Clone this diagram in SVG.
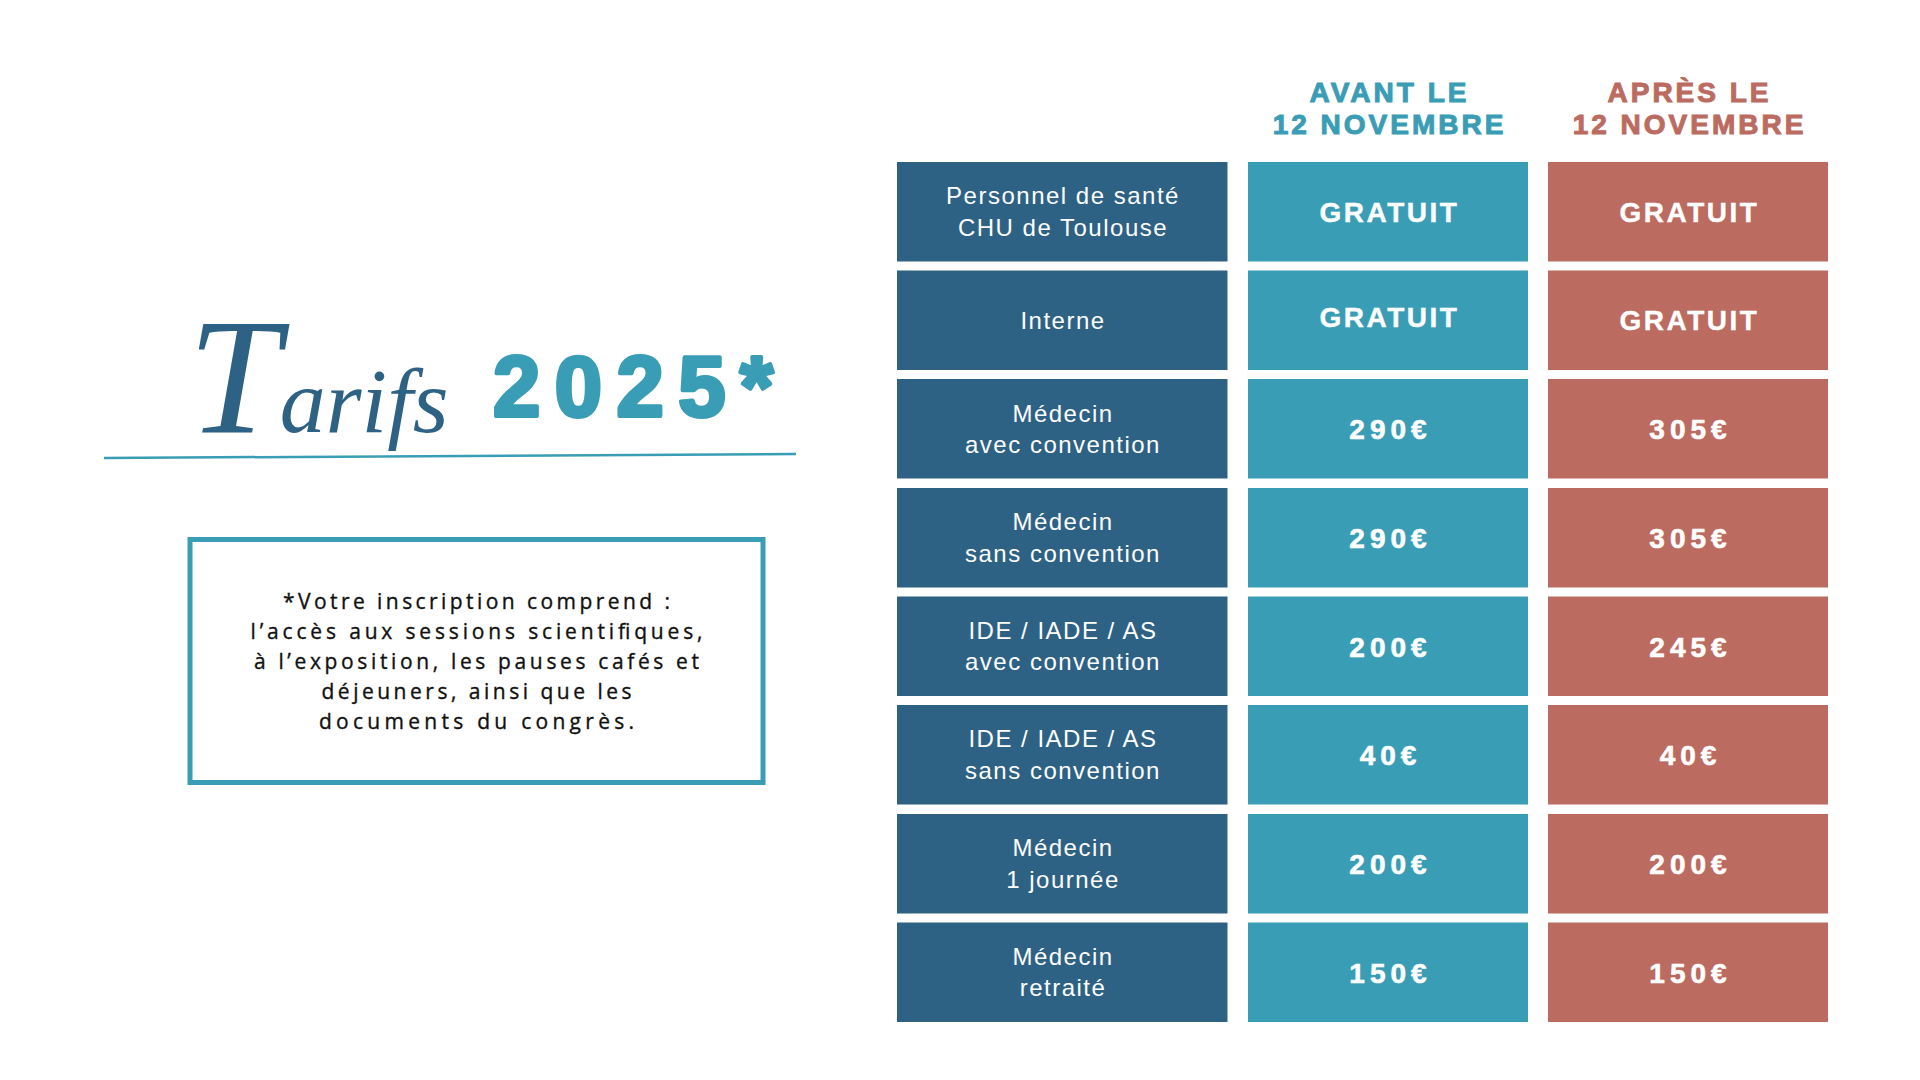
<svg xmlns="http://www.w3.org/2000/svg" width="1920" height="1080" viewBox="0 0 1920 1080">
<defs>
<style>
.bg{fill:#ffffff}
.cl{fill:#2E6285}
.cm{fill:#3A9DB6}
.cr{fill:#BC6B60}
.lt{font-family:"Liberation Sans",Arial,sans-serif;font-size:24px;fill:#ffffff;text-anchor:middle;letter-spacing:1.5px}
.pt{font-family:"Liberation Sans",Arial,sans-serif;font-size:28px;font-weight:bold;fill:#ffffff;stroke:#ffffff;stroke-width:0.6px;text-anchor:middle;letter-spacing:5px}
.gt{font-family:"Liberation Sans",Arial,sans-serif;font-size:28px;font-weight:bold;fill:#ffffff;stroke:#ffffff;stroke-width:0.4px;text-anchor:middle;letter-spacing:2.5px}
.hd{font-family:"Liberation Sans",Arial,sans-serif;font-size:28px;font-weight:bold;text-anchor:middle;letter-spacing:3px;stroke-width:1px}
.info{font-family:"Open Sans","Liberation Sans",Arial,sans-serif;font-size:21px;fill:#111111;stroke:#111111;stroke-width:0.35px;text-anchor:middle}
</style>
</defs>
<rect class="bg" x="0" y="0" width="1920" height="1080"/>

<g id="title">
  <line x1="104" y1="458" x2="796" y2="454" stroke="#3A9DB6" stroke-width="2.5"/>
  <text font-family="'Liberation Serif','DejaVu Serif',serif" font-style="italic" fill="#2E6285"><tspan x="188" y="432" font-size="165">T</tspan><tspan font-size="92">arifs</tspan></text>
  <text x="493" y="416" font-family="'Liberation Sans',Arial,sans-serif" font-weight="bold" font-size="85" fill="#3A9DB6" stroke="#3A9DB6" stroke-width="4" stroke-linejoin="round" textLength="280" lengthAdjust="spacing">2025*</text>
</g>

<g id="info-box">
  <rect x="190" y="539.5" width="573" height="243" fill="#ffffff" stroke="#3A9DB6" stroke-width="5"/>
  <text class="info" x="476.5" y="609" textLength="387" lengthAdjust="spacing">*Votre inscription comprend :</text>
  <text class="info" x="476.5" y="639" textLength="452" lengthAdjust="spacing">l’accès aux sessions scientifiques,</text>
  <text class="info" x="476.5" y="669" textLength="445" lengthAdjust="spacing">à l’exposition, les pauses cafés et</text>
  <text class="info" x="476.5" y="699" textLength="310" lengthAdjust="spacing">déjeuners, ainsi que les</text>
  <text class="info" x="476.5" y="729" textLength="315" lengthAdjust="spacing">documents du congrès.</text>
</g>

<g id="header-avant">
  <text class="hd" x="1389.5" y="101.5" fill="#3A9DB6" stroke="#3A9DB6">AVANT LE</text>
  <text class="hd" x="1389.5" y="134" fill="#3A9DB6" stroke="#3A9DB6">12 NOVEMBRE</text>
</g>
<g id="header-apres">
  <text class="hd" x="1689.5" y="101.5" fill="#BC6B60" stroke="#BC6B60">APRÈS LE</text>
  <text class="hd" x="1689.5" y="134" fill="#BC6B60" stroke="#BC6B60">12 NOVEMBRE</text>
</g>

<g id="row-1">
  <rect class="cl" x="897" y="162" width="330.5" height="99.5"/>
  <text class="lt" x="1063" y="204">Personnel de santé</text>
  <text class="lt" x="1063" y="236">CHU de Toulouse</text>
  <rect class="cm" x="1248" y="162" width="280" height="99.5"/>
  <text class="gt" x="1389.5" y="222">GRATUIT</text>
  <rect class="cr" x="1548" y="162" width="280" height="99.5"/>
  <text class="gt" x="1689.5" y="222">GRATUIT</text>
</g>

<g id="row-2">
  <rect class="cl" x="897" y="270.5" width="330.5" height="99.5"/>
  <text class="lt" x="1063" y="329">Interne</text>
  <rect class="cm" x="1248" y="270.5" width="280" height="99.5"/>
  <text class="gt" x="1389.5" y="327">GRATUIT</text>
  <rect class="cr" x="1548" y="270.5" width="280" height="99.5"/>
  <text class="gt" x="1689.5" y="330">GRATUIT</text>
</g>

<g id="row-3">
  <rect class="cl" x="897" y="379" width="330.5" height="99.5"/>
  <text class="lt" x="1063" y="421.5">Médecin</text>
  <text class="lt" x="1063" y="452.5">avec convention</text>
  <rect class="cm" x="1248" y="379" width="280" height="99.5"/>
  <text class="pt" x="1390.5" y="439">290€</text>
  <rect class="cr" x="1548" y="379" width="280" height="99.5"/>
  <text class="pt" x="1690.5" y="439">305€</text>
</g>

<g id="row-4">
  <rect class="cl" x="897" y="488" width="330.5" height="99.5"/>
  <text class="lt" x="1063" y="530">Médecin</text>
  <text class="lt" x="1063" y="561.5">sans convention</text>
  <rect class="cm" x="1248" y="488" width="280" height="99.5"/>
  <text class="pt" x="1390.5" y="548">290€</text>
  <rect class="cr" x="1548" y="488" width="280" height="99.5"/>
  <text class="pt" x="1690.5" y="548">305€</text>
</g>

<g id="row-5">
  <rect class="cl" x="897" y="596.5" width="330.5" height="99.5"/>
  <text class="lt" x="1063" y="638.5">IDE / IADE / AS</text>
  <text class="lt" x="1063" y="670">avec convention</text>
  <rect class="cm" x="1248" y="596.5" width="280" height="99.5"/>
  <text class="pt" x="1390.5" y="656.5">200€</text>
  <rect class="cr" x="1548" y="596.5" width="280" height="99.5"/>
  <text class="pt" x="1690.5" y="656.5">245€</text>
</g>

<g id="row-6">
  <rect class="cl" x="897" y="705" width="330.5" height="99.5"/>
  <text class="lt" x="1063" y="747">IDE / IADE / AS</text>
  <text class="lt" x="1063" y="778.5">sans convention</text>
  <rect class="cm" x="1248" y="705" width="280" height="99.5"/>
  <text class="pt" x="1390.5" y="765">40€</text>
  <rect class="cr" x="1548" y="705" width="280" height="99.5"/>
  <text class="pt" x="1690.5" y="765">40€</text>
</g>

<g id="row-7">
  <rect class="cl" x="897" y="814" width="330.5" height="99.5"/>
  <text class="lt" x="1063" y="856">Médecin</text>
  <text class="lt" x="1063" y="887.5">1 journée</text>
  <rect class="cm" x="1248" y="814" width="280" height="99.5"/>
  <text class="pt" x="1390.5" y="874">200€</text>
  <rect class="cr" x="1548" y="814" width="280" height="99.5"/>
  <text class="pt" x="1690.5" y="874">200€</text>
</g>

<g id="row-8">
  <rect class="cl" x="897" y="922.5" width="330.5" height="99.5"/>
  <text class="lt" x="1063" y="964.5">Médecin</text>
  <text class="lt" x="1063" y="996">retraité</text>
  <rect class="cm" x="1248" y="922.5" width="280" height="99.5"/>
  <text class="pt" x="1390.5" y="982.5">150€</text>
  <rect class="cr" x="1548" y="922.5" width="280" height="99.5"/>
  <text class="pt" x="1690.5" y="982.5">150€</text>
</g>

<g id="connectors"></g>
</svg>
